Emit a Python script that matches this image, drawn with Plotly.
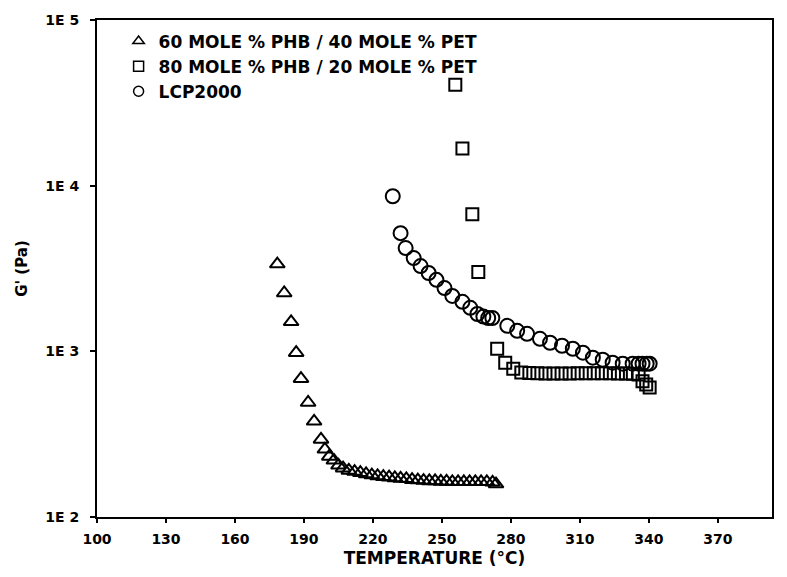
import plotly.graph_objects as go

# 60 mole % PHB / 40 mole % PET (triangles)
tri_T = [178.4, 181.4, 184.4, 186.6, 188.7, 191.8, 194.4, 197.4, 199.1, 201.0, 203.0, 205.0,
         207.0, 209.5, 212.0, 214.5, 217.0, 219.5, 222.0, 224.5, 227.0, 229.5, 232.0, 234.5,
         237.0, 239.5, 242.0, 244.5, 247.0, 249.5, 252.0, 254.5, 257.0, 259.5, 262.0, 264.5,
         267.0, 269.5, 272.0, 273.5]
tri_G = [3365, 2250, 1506, 981, 684, 491, 378, 294, 256, 232, 220, 205,
         197, 191, 188, 185, 182, 179, 177, 175, 174, 172, 171, 170,
         168, 167, 166, 165, 165, 164, 164, 163, 163, 163, 163, 163,
         163, 163, 162, 158]

# 80 mole % PHB / 20 mole % PET (squares)
sq_T = [255.8, 258.9, 263.2, 265.8, 274.0, 277.5, 281.0, 284.5, 288.0, 291.5, 295.0,
        298.5, 302.0, 305.5, 309.0, 312.5, 316.0, 319.5, 323.0, 326.5, 330.0, 333.0,
        335.5, 337.2, 338.8, 340.3]
sq_G = [40600, 16760, 6720, 3010, 1037, 854, 786, 745, 740, 738, 736,
        736, 736, 736, 737, 738, 738, 738, 738, 736, 735, 732,
        725, 660, 630, 604]

# LCP2000 (circles)
ci_T = [228.6, 232.0, 234.2, 237.7, 240.7, 244.2, 247.6, 251.1, 254.5, 258.9, 262.3,
        265.4, 268.0, 270.1, 271.9, 278.4, 282.7, 287.0, 292.6, 297.0, 302.2, 306.9,
        311.3, 315.6, 319.9, 324.2, 328.6, 332.9, 335.5, 337.2, 339.0, 340.3]
ci_G = [8630, 5170, 4200, 3655, 3270, 2970, 2700, 2410, 2160, 1990, 1830,
        1680, 1620, 1590, 1590, 1425, 1330, 1276, 1190, 1127, 1081, 1037,
        981, 916, 891, 854, 842, 842, 842, 842, 842, 842]

series_names = ["60 MOLE % PHB / 40 MOLE % PET", "80 MOLE % PHB / 20 MOLE % PET", "LCP2000"]
x_ticks = [100, 130, 160, 190, 220, 250, 280, 310, 340, 370]
y_ticks = [100, 1000, 10000, 100000]
y_ticktext = ["1E 2", "1E 3", "1E 4", "1E 5"]

FONT = "DejaVu Sans"
line = dict(color="black", width=2)
symbols = ["triangle-up-open", "square-open", "circle-open"]
sizes = [13, 12, 14]
data = [(tri_T, tri_G), (sq_T, sq_G), (ci_T, ci_G)]

fig = go.Figure()
for (xs, ys), sym, sz, nm in zip(data, symbols, sizes, series_names):
    fig.add_trace(go.Scatter(x=xs, y=ys, mode="markers", name=nm, showlegend=False,
                             marker=dict(symbol=sym, size=sz, color="black", line=line)))
# legend entries (smaller symbols, like the original key)
for sym, nm in zip(symbols, series_names):
    fig.add_trace(go.Scatter(x=[None], y=[None], mode="markers", name=nm, showlegend=True,
                             marker=dict(symbol=sym, size=10, color="black",
                                         line=dict(color="black", width=1.5))))

fig.update_layout(
    width=787, height=577,
    margin=dict(l=97, r=15, t=18, b=57),
    paper_bgcolor="white", plot_bgcolor="white",
    font=dict(family=FONT, color="black", size=13),
    showlegend=True,
    legend=dict(x=0.032, y=0.993, xanchor="left", yanchor="top",
                bgcolor="rgba(0,0,0,0)",
                font=dict(family=FONT, size=17, color="black", weight="bold"),
                itemwidth=30, tracegroupgap=0),
    xaxis=dict(range=[100, 393.5], tickvals=x_ticks, ticks="outside", ticklen=4,
               tickwidth=2, tickcolor="black", showline=True, linecolor="black",
               linewidth=2, mirror=True, showgrid=False, zeroline=False,
               ticklabelstandoff=4,
               tickfont=dict(size=14, weight="bold", color="black"),
               title=dict(text="TEMPERATURE (°C)", standoff=6,
                          font=dict(size=17, weight="bold", color="black"))),
    yaxis=dict(type="log", range=[2, 5], tickvals=y_ticks, ticktext=y_ticktext,
               ticks="outside", ticklen=5, tickwidth=2, tickcolor="black",
               ticklabelstandoff=8,
               showline=True, linecolor="black", linewidth=2, mirror=True,
               showgrid=False, zeroline=False,
               tickfont=dict(size=14, weight="bold", color="black"),
               title=dict(text="G' (Pa)", standoff=14,
                          font=dict(size=15, weight="bold", color="black"))),
)

fig.write_html("out.html")
